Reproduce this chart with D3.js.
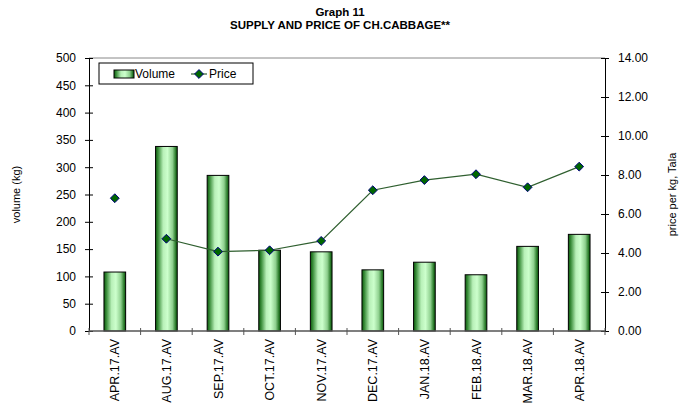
<!DOCTYPE html>
<html>
<head>
<meta charset="utf-8">
<script src="https://cdn.jsdelivr.net/npm/d3@7"></script>
<style>
  body { margin: 0; background: #fff; }
  svg { display: block; font-family: "Liberation Sans", Arial, sans-serif; }
</style>
</head>
<body>
<div id="chart"></div>
<script>
// Monthly averages, ch. cabbage
const months = ["APR.17.AV", "AUG.17.AV", "SEP.17.AV", "OCT.17.AV", "NOV.17.AV",
  "DEC.17.AV", "JAN.18.AV", "FEB.18.AV", "MAR.18.AV", "APR.18.AV"];
const volume = [108, 338, 285, 148, 145, 112, 126, 103, 155, 177];
const price = [6.81, 4.73, 4.07, 4.14, 4.62, 7.22, 7.74, 8.04, 7.37, 8.43];
// the price line is broken after APR.17 (May-Jul missing)
const lineBreakAfter = "APR.17.AV";
const volumeTicks = [0, 50, 100, 150, 200, 250, 300, 350, 400, 450, 500];
const priceTicks = [0, 2, 4, 6, 8, 10, 12, 14];

const width = 688;
const height = 405;
const margin = { top: 58, right: 83, bottom: 74, left: 89 };

const svg = d3.select("#chart")
  .append("svg")
  .attr("width", width)
  .attr("height", height);

const defs = svg.append("defs");
const grad = defs.append("linearGradient")
  .attr("id", "barGrad")
  .attr("x1", "0%").attr("x2", "100%")
  .attr("y1", "0%").attr("y2", "0%");
[[0, "#0b5a0b"], [0.12, "#3c8f3c"], [0.35, "#b8f0b8"], [0.55, "#ccffcc"],
 [0.78, "#8fd08f"], [0.92, "#2f7f2f"], [1, "#0b5a0b"]].forEach(([o, c]) => {
  grad.append("stop").attr("offset", o).attr("stop-color", c);
});

const x = d3.scaleBand()
  .domain(months)
  .range([margin.left, width - margin.right])
  .paddingInner(0.58)
  .paddingOuter(0.29);

const yVol = d3.scaleLinear()
  .domain([0, 500])
  .range([height - margin.bottom, margin.top]);

const yPrice = d3.scaleLinear()
  .domain([0, 14])
  .range([height - margin.bottom, margin.top]);

const x0 = margin.left;
const x1 = width - margin.right;
const y0 = height - margin.bottom;

// title
svg.append("text")
  .attr("x", 340).attr("y", 16)
  .attr("text-anchor", "middle")
  .attr("font-size", 11.5).attr("font-weight", "bold")
  .text("Graph 11");
svg.append("text")
  .attr("x", 340).attr("y", 29)
  .attr("text-anchor", "middle")
  .attr("font-size", 11.5).attr("font-weight", "bold")
  .text("SUPPLY AND PRICE OF CH.CABBAGE**");

// top border of the plot area
svg.append("line")
  .attr("x1", x0).attr("x2", x1)
  .attr("y1", margin.top).attr("y2", margin.top)
  .attr("stroke", "#888");

// bars
svg.append("g")
  .selectAll("rect")
  .data(months)
  .join("rect")
  .attr("x", d => x(d))
  .attr("y", (d, i) => yVol(volume[i]))
  .attr("width", x.bandwidth())
  .attr("height", (d, i) => y0 - yVol(volume[i]))
  .attr("fill", "url(#barGrad)")
  .attr("stroke", "#000")
  .attr("stroke-width", 1);

// axes
const leftAxis = d3.axisLeft(yVol)
  .tickValues(volumeTicks)
  .tickSizeInner(4).tickSizeOuter(0)
  .tickPadding(9);
const gl = svg.append("g")
  .attr("transform", `translate(${x0},0)`)
  .call(leftAxis);
gl.selectAll(".tick line").attr("x2", -4).attr("x1", 4);

const rightAxis = d3.axisRight(yPrice)
  .tickValues(priceTicks)
  .tickFormat(d3.format(".2f"))
  .tickSizeInner(4).tickSizeOuter(0)
  .tickPadding(9);
const gr = svg.append("g")
  .attr("transform", `translate(${x1},0)`)
  .call(rightAxis);
gr.selectAll(".tick line").attr("x1", -4).attr("x2", 4);

[gl, gr].forEach(g => {
  g.select(".domain").attr("stroke", "#000");
  g.selectAll(".tick line").attr("stroke", "#000");
  g.selectAll("text").attr("font-size", 12).attr("fill", "#000")
    .attr("font-family", "Liberation Sans, Arial, sans-serif");
});

// x axis: boundary ticks between categories
const step = x.step();
const bounds = d3.range(months.length + 1).map(i => x0 + i * step);
svg.append("line")
  .attr("x1", x0).attr("x2", x1)
  .attr("y1", y0).attr("y2", y0)
  .attr("stroke", "#555").attr("stroke-width", 1.5);
svg.append("g")
  .selectAll("line")
  .data(bounds)
  .join("line")
  .attr("x1", d => d).attr("x2", d => d)
  .attr("y1", y0 - 3).attr("y2", y0 + 4)
  .attr("stroke", "#555");

svg.append("g")
  .selectAll("text")
  .data(months)
  .join("text")
  .attr("transform", d => `translate(${x(d) + x.bandwidth() / 2 + 4.5},${y0 + 8}) rotate(-90)`)
  .attr("text-anchor", "end")
  .attr("font-size", 12.5)
  .text(d => d);

// axis titles
svg.append("text")
  .attr("transform", `translate(20,${(margin.top + y0) / 2}) rotate(-90)`)
  .attr("text-anchor", "middle")
  .attr("font-size", 11)
  .text("volume (kg)");
svg.append("text")
  .attr("transform", `translate(676,${(margin.top + y0) / 2}) rotate(-90)`)
  .attr("text-anchor", "middle")
  .attr("font-size", 11)
  .text("price per kg, Tala");

// price line, drawn from the month after the break
const cx = d => x(d) + x.bandwidth() / 2;
const linked = months.slice(months.indexOf(lineBreakAfter) + 1);
const line = d3.line()
  .x(d => cx(d))
  .y(d => yPrice(price[months.indexOf(d)]));
svg.append("path")
  .datum(linked)
  .attr("fill", "none")
  .attr("stroke", "#2f5f2f")
  .attr("stroke-width", 1.2)
  .attr("d", line);

const diamond = d3.symbol().type(d3.symbolDiamond2).size(50);
svg.append("g")
  .selectAll("path")
  .data(months)
  .join("path")
  .attr("transform", (d, i) => `translate(${cx(d)},${yPrice(price[i])})`)
  .attr("d", diamond)
  .attr("fill", "#006600")
  .attr("stroke", "#000080")
  .attr("stroke-width", 1);

// legend
const lg = svg.append("g").attr("transform", "translate(99,63)");
lg.append("rect")
  .attr("width", 154).attr("height", 21)
  .attr("fill", "#fff").attr("stroke", "#000");
lg.append("rect")
  .attr("x", 15).attr("y", 7).attr("width", 20).attr("height", 8)
  .attr("fill", "url(#barGrad)").attr("stroke", "#000");
lg.append("text")
  .attr("x", 36).attr("y", 15)
  .attr("font-size", 12)
  .text("Volume");
lg.append("line")
  .attr("x1", 92).attr("x2", 108)
  .attr("y1", 11).attr("y2", 11)
  .attr("stroke", "#2f5f2f").attr("stroke-width", 1.2);
lg.append("path")
  .attr("transform", "translate(100,11)")
  .attr("d", diamond)
  .attr("fill", "#006600")
  .attr("stroke", "#000080");
lg.append("text")
  .attr("x", 110).attr("y", 15)
  .attr("font-size", 12)
  .text("Price");
</script>
</body>
</html>
